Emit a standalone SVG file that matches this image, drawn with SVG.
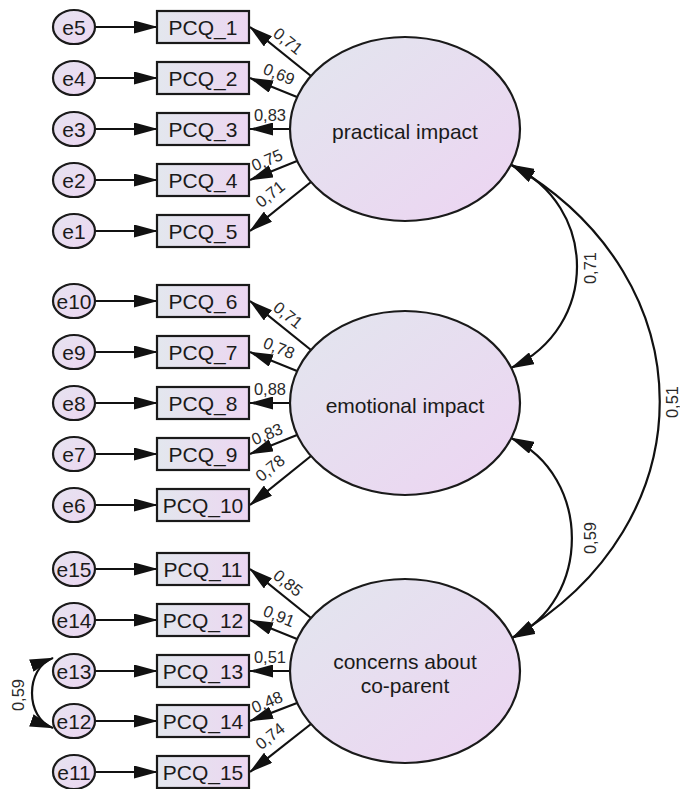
<svg xmlns="http://www.w3.org/2000/svg" width="680" height="789" viewBox="0 0 680 789">
<style>
.shape{stroke:#1a1a1a;stroke-width:2.2}
.ell{fill:url(#gEll)}
.box{fill:url(#gBox)}
.err{fill:url(#gErr)}
.lbl{font-family:"Liberation Sans",Arial,sans-serif;font-size:21px;fill:#1a1a1a;text-anchor:middle}
.big{font-size:21px}
.num{font-family:"Liberation Sans",Arial,sans-serif;font-size:16.5px;fill:#2a2a2a;text-anchor:middle}
.edge{stroke:#111;stroke-width:2.2;fill:none;marker-end:url(#arr)}
.cov{stroke:#111;stroke-width:2.2;fill:none;marker-end:url(#arr);marker-start:url(#arr)}
</style>
<defs>
<linearGradient id="gEll" x1="0" y1="0" x2="1" y2="1">
<stop offset="0" stop-color="#e2e6ee"/>
<stop offset="1" stop-color="#edd4f2"/>
</linearGradient>
<linearGradient id="gBox" x1="0" y1="0" x2="1" y2="0">
<stop offset="0" stop-color="#e3e7ee"/>
<stop offset="1" stop-color="#ecd6f1"/>
</linearGradient>
<linearGradient id="gErr" x1="0" y1="0" x2="1" y2="1">
<stop offset="0" stop-color="#e6e3f0"/>
<stop offset="1" stop-color="#ecd6f1"/>
</linearGradient>
<marker id="arr" viewBox="0 0 24 13" refX="23" refY="6.5" markerWidth="24" markerHeight="13" markerUnits="userSpaceOnUse" orient="auto-start-reverse">
<path d="M0,0 L24,6.5 L0,13 Z" fill="#111"/>
</marker>
</defs>

<g id="connectors">
<line class="edge" x1="95" y1="27" x2="157" y2="27"/>
<line class="edge" x1="95" y1="78" x2="157" y2="78"/>
<line class="edge" x1="95" y1="129" x2="157" y2="129"/>
<line class="edge" x1="95" y1="180" x2="157" y2="180"/>
<line class="edge" x1="95" y1="231" x2="157" y2="231"/>
<line class="edge" x1="95" y1="301" x2="157" y2="301"/>
<line class="edge" x1="95" y1="352" x2="157" y2="352"/>
<line class="edge" x1="95" y1="403" x2="157" y2="403"/>
<line class="edge" x1="95" y1="454" x2="157" y2="454"/>
<line class="edge" x1="95" y1="505" x2="157" y2="505"/>
<line class="edge" x1="95" y1="569" x2="157" y2="569"/>
<line class="edge" x1="95" y1="620" x2="157" y2="620"/>
<line class="edge" x1="95" y1="671" x2="157" y2="671"/>
<line class="edge" x1="95" y1="721" x2="157" y2="721"/>
<line class="edge" x1="95" y1="772" x2="157" y2="772"/>
<line class="edge" x1="311" y1="76" x2="250" y2="27"/>
<line class="edge" x1="297" y1="97" x2="250" y2="78"/>
<line class="edge" x1="290" y1="129" x2="250" y2="129"/>
<line class="edge" x1="297" y1="161" x2="250" y2="180"/>
<line class="edge" x1="311" y1="182" x2="250" y2="231"/>
<line class="edge" x1="311" y1="350" x2="250" y2="301"/>
<line class="edge" x1="297" y1="371" x2="250" y2="352"/>
<line class="edge" x1="290" y1="403" x2="250" y2="403"/>
<line class="edge" x1="297" y1="435" x2="250" y2="454"/>
<line class="edge" x1="311" y1="456" x2="250" y2="505"/>
<line class="edge" x1="311" y1="618" x2="250" y2="569"/>
<line class="edge" x1="297" y1="639" x2="250" y2="620"/>
<line class="edge" x1="290" y1="671" x2="250" y2="671"/>
<line class="edge" x1="297" y1="703" x2="250" y2="721"/>
<line class="edge" x1="311" y1="724" x2="250" y2="772"/>
<path class="cov" d="M511,165 C599,206 599,327 511,368"/>
<path class="cov" d="M511,438 C592,476 592,600 512,638"/>
<path class="cov" d="M512,165 C709,279 709,524 512,638"/>
<path class="cov" d="M53,658 C25,668 25,718 53,728"/>
<text class="num" transform="translate(288,41) rotate(39)" dy="0.35em">0,71</text>
<text class="num" transform="translate(279,74) rotate(22)" dy="0.35em">0,69</text>
<text class="num" transform="translate(270,115)" dy="0.35em">0,83</text>
<text class="num" transform="translate(267,160) rotate(-23)" dy="0.35em">0,75</text>
<text class="num" transform="translate(270,194) rotate(-39)" dy="0.35em">0,71</text>
<text class="num" transform="translate(288,315) rotate(39)" dy="0.35em">0,71</text>
<text class="num" transform="translate(279,348) rotate(22)" dy="0.35em">0,78</text>
<text class="num" transform="translate(270,389)" dy="0.35em">0,88</text>
<text class="num" transform="translate(267,434) rotate(-23)" dy="0.35em">0,83</text>
<text class="num" transform="translate(270,468) rotate(-39)" dy="0.35em">0,78</text>
<text class="num" transform="translate(288,583) rotate(39)" dy="0.35em">0,85</text>
<text class="num" transform="translate(279,616) rotate(22)" dy="0.35em">0,91</text>
<text class="num" transform="translate(270,657)" dy="0.35em">0,51</text>
<text class="num" transform="translate(267,702) rotate(-23)" dy="0.35em">0,48</text>
<text class="num" transform="translate(270,736) rotate(-39)" dy="0.35em">0,74</text>
<text class="num" transform="translate(590,268) rotate(-90)" dy="0.35em">0,71</text>
<text class="num" transform="translate(590,538) rotate(-90)" dy="0.35em">0,59</text>
<text class="num" transform="translate(672,402) rotate(-90)" dy="0.35em">0,51</text>
<text class="num" transform="translate(18,695) rotate(-90)" dy="0.35em">0,59</text>
</g>

<g id="practical_impact"><ellipse class="shape ell" cx="405" cy="129" rx="115" ry="92"/><text class="lbl big" x="405" y="139">practical impact</text></g>
<g id="emotional_impact"><ellipse class="shape ell" cx="405" cy="403" rx="115" ry="92"/><text class="lbl big" x="405" y="413">emotional impact</text></g>
<g id="concerns_coparent"><ellipse class="shape ell" cx="405" cy="671" rx="115" ry="92"/><text class="lbl big" x="405" y="669">concerns about</text><text class="lbl big" x="405" y="693">co-parent</text></g>

<g id="PCQ_1"><rect class="shape box" x="157" y="11" width="92" height="32"/><text class="lbl" x="203" y="34.5">PCQ_1</text></g>
<g id="PCQ_2"><rect class="shape box" x="157" y="62" width="92" height="32"/><text class="lbl" x="203" y="85.5">PCQ_2</text></g>
<g id="PCQ_3"><rect class="shape box" x="157" y="113" width="92" height="32"/><text class="lbl" x="203" y="136.5">PCQ_3</text></g>
<g id="PCQ_4"><rect class="shape box" x="157" y="164" width="92" height="32"/><text class="lbl" x="203" y="187.5">PCQ_4</text></g>
<g id="PCQ_5"><rect class="shape box" x="157" y="215" width="92" height="32"/><text class="lbl" x="203" y="238.5">PCQ_5</text></g>
<g id="PCQ_6"><rect class="shape box" x="157" y="285" width="92" height="32"/><text class="lbl" x="203" y="308.5">PCQ_6</text></g>
<g id="PCQ_7"><rect class="shape box" x="157" y="336" width="92" height="32"/><text class="lbl" x="203" y="359.5">PCQ_7</text></g>
<g id="PCQ_8"><rect class="shape box" x="157" y="387" width="92" height="32"/><text class="lbl" x="203" y="410.5">PCQ_8</text></g>
<g id="PCQ_9"><rect class="shape box" x="157" y="438" width="92" height="32"/><text class="lbl" x="203" y="461.5">PCQ_9</text></g>
<g id="PCQ_10"><rect class="shape box" x="157" y="489" width="92" height="32"/><text class="lbl" x="203" y="512.5">PCQ_10</text></g>
<g id="PCQ_11"><rect class="shape box" x="157" y="553" width="92" height="32"/><text class="lbl" x="203" y="576.5">PCQ_11</text></g>
<g id="PCQ_12"><rect class="shape box" x="157" y="604" width="92" height="32"/><text class="lbl" x="203" y="627.5">PCQ_12</text></g>
<g id="PCQ_13"><rect class="shape box" x="157" y="655" width="92" height="32"/><text class="lbl" x="203" y="678.5">PCQ_13</text></g>
<g id="PCQ_14"><rect class="shape box" x="157" y="705" width="92" height="32"/><text class="lbl" x="203" y="728.5">PCQ_14</text></g>
<g id="PCQ_15"><rect class="shape box" x="157" y="756" width="92" height="32"/><text class="lbl" x="203" y="779.5">PCQ_15</text></g>

<g id="e5"><ellipse class="shape err" cx="74" cy="27" rx="21" ry="17"/><text class="lbl" x="74" y="34.5">e5</text></g>
<g id="e4"><ellipse class="shape err" cx="74" cy="78" rx="21" ry="17"/><text class="lbl" x="74" y="85.5">e4</text></g>
<g id="e3"><ellipse class="shape err" cx="74" cy="129" rx="21" ry="17"/><text class="lbl" x="74" y="136.5">e3</text></g>
<g id="e2"><ellipse class="shape err" cx="74" cy="180" rx="21" ry="17"/><text class="lbl" x="74" y="187.5">e2</text></g>
<g id="e1"><ellipse class="shape err" cx="74" cy="231" rx="21" ry="17"/><text class="lbl" x="74" y="238.5">e1</text></g>
<g id="e10"><ellipse class="shape err" cx="74" cy="301" rx="21" ry="17"/><text class="lbl" x="74" y="308.5">e10</text></g>
<g id="e9"><ellipse class="shape err" cx="74" cy="352" rx="21" ry="17"/><text class="lbl" x="74" y="359.5">e9</text></g>
<g id="e8"><ellipse class="shape err" cx="74" cy="403" rx="21" ry="17"/><text class="lbl" x="74" y="410.5">e8</text></g>
<g id="e7"><ellipse class="shape err" cx="74" cy="454" rx="21" ry="17"/><text class="lbl" x="74" y="461.5">e7</text></g>
<g id="e6"><ellipse class="shape err" cx="74" cy="505" rx="21" ry="17"/><text class="lbl" x="74" y="512.5">e6</text></g>
<g id="e15"><ellipse class="shape err" cx="74" cy="569" rx="21" ry="17"/><text class="lbl" x="74" y="576.5">e15</text></g>
<g id="e14"><ellipse class="shape err" cx="74" cy="620" rx="21" ry="17"/><text class="lbl" x="74" y="627.5">e14</text></g>
<g id="e13"><ellipse class="shape err" cx="74" cy="671" rx="21" ry="17"/><text class="lbl" x="74" y="678.5">e13</text></g>
<g id="e12"><ellipse class="shape err" cx="74" cy="721" rx="21" ry="17"/><text class="lbl" x="74" y="728.5">e12</text></g>
<g id="e11"><ellipse class="shape err" cx="74" cy="772" rx="21" ry="17"/><text class="lbl" x="74" y="779.5">e11</text></g>
</svg>
